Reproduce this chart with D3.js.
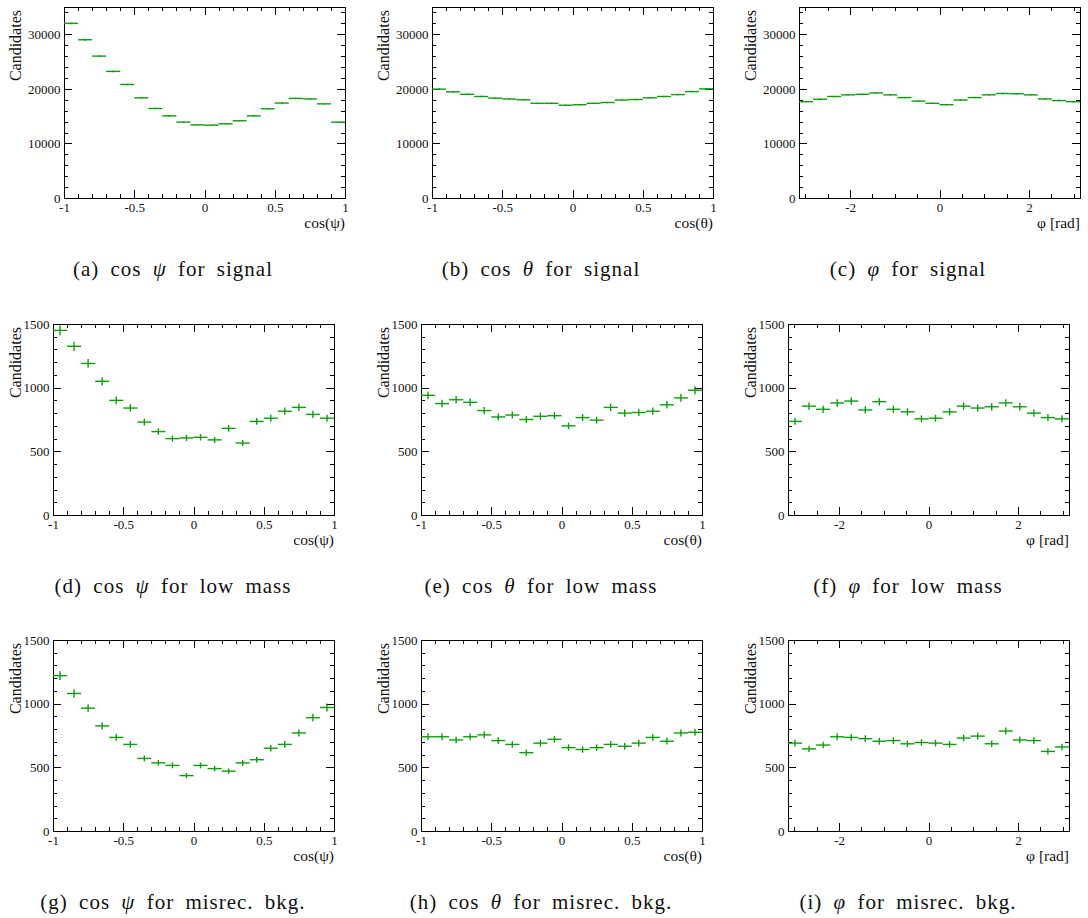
<!DOCTYPE html>
<html>
<head>
<meta charset="utf-8">
<script src="https://cdn.jsdelivr.net/npm/d3@7"></script>
</head>
<body style="margin:0; background:#fff">
<script>
// values (20 bins per histogram)
const sigCosPsi = [32000, 29000, 26000, 23200, 20800, 18350, 16400, 15050, 13900, 13400,
                   13350, 13600, 14150, 15050, 16350, 17400, 18250, 18150, 17250, 13900];
const sigCosTheta = [19950, 19450, 19000, 18600, 18300, 18150, 18000, 17350, 17350, 17000,
                     17100, 17350, 17500, 17950, 18050, 18350, 18600, 18950, 19500, 20000];
const sigPhi = [17650, 18100, 18600, 18900, 19000, 19250, 18900, 18400, 17750, 17350,
                17100, 17950, 18400, 18900, 19150, 19100, 18900, 18150, 17850, 17650];

const lowCosPsi = [1450, 1325, 1190, 1050, 900, 840, 730, 655, 600, 605,
                   610, 590, 680, 565, 735, 760, 815, 845, 790, 760];
const lowCosTheta = [940, 875, 905, 885, 820, 770, 785, 750, 775, 780,
                     700, 765, 745, 845, 800, 805, 815, 865, 920, 980];
const lowPhi = [735, 855, 830, 880, 895, 825, 890, 830, 810, 755,
                760, 810, 855, 840, 850, 880, 850, 800, 765, 755];

const misCosPsi = [1220, 1080, 965, 825, 735, 680, 570, 535, 515, 435,
                   515, 490, 470, 535, 560, 650, 680, 770, 890, 970];
const misCosTheta = [740, 740, 715, 740, 755, 710, 680, 615, 690, 720,
                     655, 640, 655, 680, 665, 690, 735, 705, 770, 775];
const misPhi = [690, 645, 675, 740, 735, 725, 705, 710, 685, 695,
                690, 680, 730, 745, 685, 785, 715, 710, 625, 660];

const cosMajorTicks = [-1, -0.5, 0, 0.5, 1];
const phiMajorTicks = [-2, 0, 2];
const sigYTicks = [0, 10000, 20000, 30000];
const bkgYTicks = [0, 500, 1000, 1500];

const xTitles = ["cos(\u03c8)", "cos(\u03b8)", "\u03c6 [rad]"];
const captionLetters = ["a", "b", "c", "d", "e", "f", "g", "h", "i"];
const captionVars = ["\u03c8", "\u03b8", "\u03c6"];
const captionSamples = ["signal", "low mass", "misrec. bkg."];

const rows = [
  { series: [sigCosPsi, sigCosTheta, sigPhi], yMax: 35000, yTicks: sigYTicks, yMinor: 2000 },
  { series: [lowCosPsi, lowCosTheta, lowPhi], yMax: 1500, yTicks: bkgYTicks, yMinor: 100 },
  { series: [misCosPsi, misCosTheta, misPhi], yMax: 1500, yTicks: bkgYTicks, yMinor: 100 }
];

const FONT = "Liberation Serif";
const GREEN = "#0c9e0c";
const colBase = [0, 368, 735];
const rowTop = [7, 324, 640];
const plotW = 281;
const plotH = 191;

const svg = d3.select("body")
  .append("svg")
  .attr("width", 1088)
  .attr("height", 918)
  .style("display", "block");

svg.append("rect")
  .attr("width", 1088)
  .attr("height", 918)
  .attr("fill", "#fff");

rows.forEach(function (row, r) {
  row.series.forEach(function (values, c) {
    const left = colBase[c] + (r === 0 ? 64 : 53);
    const top = rowTop[r];
    drawPanel(svg, values, left, top, row, c, r);
  });
});

// every text gets the serif face directly
svg.selectAll("text")
  .attr("font-family", FONT)
  .style("font-family", FONT);

function drawPanel(svg, values, left, top, row, c, r) {
  const isPhi = c === 2;
  const xDomain = isPhi ? [-Math.PI, Math.PI] : [-1, 1];

  const x = d3.scaleLinear().domain(xDomain).range([0, plotW]);
  const y = d3.scaleLinear().domain([0, row.yMax]).range([plotH, 0]);

  const g = svg.append("g").attr("transform", `translate(${left},${top})`);

  const xMajor = isPhi ? phiMajorTicks : cosMajorTicks;
  const xMinor = isPhi
    ? d3.range(-3, 3.01, 0.5)
    : d3.range(-10, 11).map(function (k) { return k / 10; });
  const yMinor = d3.range(0, row.yMax + 1, row.yMinor);

  const fmt = function (d) { return String(d); };

  // bottom
  g.append("g")
    .attr("transform", `translate(0,${plotH})`)
    .call(d3.axisBottom(x).tickValues(xMinor).tickSize(-4).tickFormat(""));
  g.append("g")
    .attr("transform", `translate(0,${plotH})`)
    .call(d3.axisBottom(x).tickValues(xMajor).tickSize(-8).tickPadding(4.5).tickFormat(fmt));
  // top
  g.append("g")
    .call(d3.axisTop(x).tickValues(xMinor).tickSize(-4).tickFormat(""));
  g.append("g")
    .call(d3.axisTop(x).tickValues(xMajor).tickSize(-8).tickFormat(""));
  // left
  g.append("g")
    .call(d3.axisLeft(y).tickValues(yMinor).tickSize(-4).tickFormat(""));
  g.append("g")
    .call(d3.axisLeft(y).tickValues(row.yTicks).tickSize(-8).tickPadding(3.5).tickFormat(fmt));
  // right
  g.append("g")
    .attr("transform", `translate(${plotW},0)`)
    .call(d3.axisRight(y).tickValues(yMinor).tickSize(-4).tickFormat(""));
  g.append("g")
    .attr("transform", `translate(${plotW},0)`)
    .call(d3.axisRight(y).tickValues(row.yTicks).tickSize(-8).tickFormat(""));

  g.selectAll(".domain").remove();
  g.selectAll(".tick text")
    .attr("font-size", 13)
    .attr("fill", "#111");
  g.selectAll(".tick line")
    .attr("stroke", "#000")
    .attr("shape-rendering", "crispEdges");

  g.append("rect")
    .attr("width", plotW)
    .attr("height", plotH)
    .attr("fill", "none")
    .attr("stroke", "#000")
    .attr("stroke-width", 1)
    .attr("shape-rendering", "crispEdges");

  // histogram points: bin-width bar plus sqrt(N) error
  const binW = (xDomain[1] - xDomain[0]) / values.length;
  const pts = values.map(function (v, i) {
    const lo = xDomain[0] + i * binW;
    return { lo: lo, hi: lo + binW, mid: lo + binW / 2, v: v, err: Math.sqrt(v) };
  });

  const marks = g.append("g")
    .attr("stroke", GREEN)
    .attr("stroke-width", 1.4);

  marks.selectAll("line.h")
    .data(pts)
    .join("line")
    .attr("class", "h")
    .attr("x1", function (d) { return x(d.lo); })
    .attr("x2", function (d) { return x(d.hi); })
    .attr("y1", function (d) { return y(d.v); })
    .attr("y2", function (d) { return y(d.v); });

  marks.selectAll("line.v")
    .data(pts)
    .join("line")
    .attr("class", "v")
    .attr("x1", function (d) { return x(d.mid); })
    .attr("x2", function (d) { return x(d.mid); })
    .attr("y1", function (d) { return y(d.v - d.err); })
    .attr("y2", function (d) { return y(d.v + d.err); });

  // titles
  g.append("text")
    .attr("x", plotW)
    .attr("y", plotH + 30)
    .attr("text-anchor", "end")
    .attr("font-size", 15.5)
    .attr("fill", "#111")
    .text(xTitles[c]);

  g.append("text")
    .attr("transform", `translate(${r === 0 ? -43 : -32.5},3) rotate(-90)`)
    .attr("text-anchor", "end")
    .attr("font-size", 16)
    .attr("fill", "#111")
    .text("Candidates");

  // caption under the sub-figure
  const cap = svg.append("text")
    .attr("x", colBase[c] + 173)
    .attr("y", top + plotH + 78)
    .attr("text-anchor", "middle")
    .attr("font-size", 21)
    .attr("fill", "#111")
    .style("letter-spacing", "1px")
    .style("word-spacing", "5px");

  cap.append("tspan").text(`(${captionLetters[r * 3 + c]}) `);
  if (!isPhi) {
    cap.append("tspan").text("cos ");
  }
  cap.append("tspan").attr("font-style", "italic").text(captionVars[c]);
  cap.append("tspan").text(` for ${captionSamples[r]}`);
}
</script>
</body>
</html>
